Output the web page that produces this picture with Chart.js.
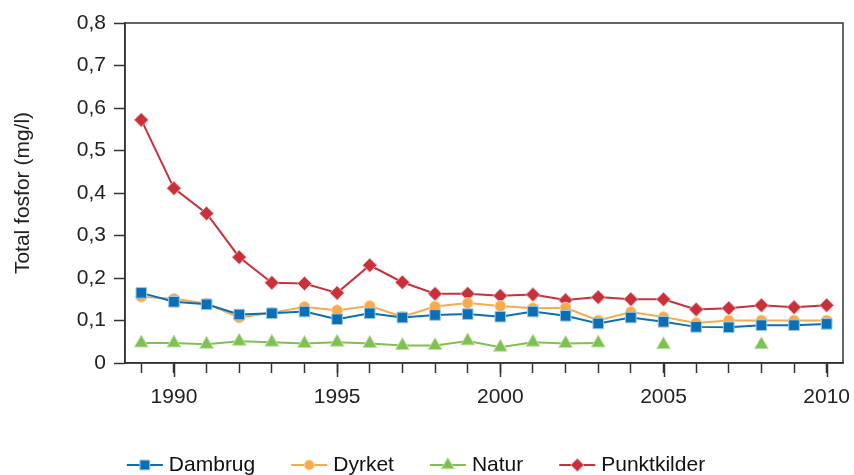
<!DOCTYPE html>
<html>
<head>
<meta charset="utf-8">
<script src="https://cdn.jsdelivr.net/npm/chart.js@4/dist/chart.umd.min.js"></script>
<style>
  html, body { margin: 0; padding: 0; background: #fff; }
</style>
</head>
<body>
<canvas id="graficoFosfor" width="854" height="475"></canvas>
<script>
const aar = [1989, 1990, 1991, 1992, 1993, 1994, 1995, 1996, 1997, 1998, 1999,
             2000, 2001, 2002, 2003, 2004, 2005, 2006, 2007, 2008, 2009, 2010];
const dambrug = [0.165, 0.144, 0.138, 0.114, 0.117, 0.121, 0.103, 0.117, 0.107, 0.113, 0.115,
                 0.109, 0.121, 0.111, 0.093, 0.107, 0.097, 0.085, 0.084, 0.089, 0.089, 0.092];
const dyrket = [0.156, 0.151, 0.140, 0.107, 0.118, 0.132, 0.124, 0.134, 0.109, 0.133, 0.141,
                0.134, 0.129, 0.130, 0.100, 0.120, 0.108, 0.094, 0.100, 0.100, 0.100, 0.100];
const natur = [0.047, 0.047, 0.044, 0.051, 0.049, 0.046, 0.049, 0.046, 0.041, 0.041, 0.052,
               0.037, 0.049, 0.046, 0.047, null, 0.043, null, null, 0.043, null, null];
const punktkilder = [0.572, 0.411, 0.352, 0.249, 0.189, 0.187, 0.165, 0.230, 0.190, 0.163, 0.163,
                     0.158, 0.161, 0.148, 0.155, 0.150, 0.150, 0.126, 0.129, 0.136, 0.131, 0.136];
const yTicks = [0, 0.1, 0.2, 0.3, 0.4, 0.5, 0.6, 0.7, 0.8];

const FONT = '"Liberation Sans", Arial, Helvetica, sans-serif';
const AXIS = '#333';

function serie(label, values, color, edge, style, radius) {
    return {
        label: label,
        data: aar.map((a, i) => ({ x: a, y: values[i] })),
        borderColor: color,
        backgroundColor: color,
        borderWidth: 2,
        pointStyle: style,
        pointRadius: radius,
        pointBackgroundColor: color,
        pointBorderColor: edge,
        pointBorderWidth: 1,
        spanGaps: false,
        tension: 0
    };
}

// ramme rundt om plotområdet + lange tick-streger hvert 5. år
const rammePlugin = {
    id: 'ramme',
    afterDraw(chart) {
        const { ctx, chartArea } = chart;
        const x = chart.scales.x;
        ctx.save();
        ctx.strokeStyle = AXIS;
        ctx.lineWidth = 1.5;
        ctx.strokeRect(chartArea.left, chartArea.top, chartArea.right - chartArea.left, chartArea.bottom - chartArea.top);
        aar.filter(a => a % 5 === 0).forEach(a => {
            const px = Math.round(x.getPixelForValue(a)) + 0.5;
            ctx.beginPath();
            ctx.moveTo(px, chartArea.bottom);
            ctx.lineTo(px, chartArea.bottom + 14);
            ctx.stroke();
        });
        ctx.restore();
    }
};

// forklaring med linje + markør, som i originalen
const forklaringPlugin = {
    id: 'forklaring',
    afterDraw(chart) {
        const ctx = chart.ctx;
        ctx.save();
        ctx.font = '21px ' + FONT;
        const sets = chart.data.datasets;
        const items = sets.map(ds => ({ ds: ds, w: 36 + 6 + ctx.measureText(ds.label).width }));
        const gap = 36;
        const total = items.reduce((s, it) => s + it.w, 0) + gap * (items.length - 1);
        let x = 416 - total / 2;
        const y = 465;
        items.forEach(it => {
            const ds = it.ds;
            ctx.strokeStyle = ds.borderColor;
            ctx.lineWidth = 2;
            ctx.beginPath();
            ctx.moveTo(x, y);
            ctx.lineTo(x + 36, y);
            ctx.stroke();
            ctx.fillStyle = ds.pointBackgroundColor;
            ctx.strokeStyle = ds.pointBorderColor;
            ctx.lineWidth = 1;
            Chart.helpers.drawPoint(ctx, { pointStyle: ds.pointStyle, radius: ds.pointRadius - 0.5, rotation: 0, borderWidth: 1 }, x + 18, y);
            ctx.fillStyle = '#111';
            ctx.textBaseline = 'middle';
            ctx.textAlign = 'left';
            ctx.fillText(ds.label, x + 42, y);
            x += it.w + gap;
        });
        ctx.restore();
    }
};

const ctx = document.getElementById('graficoFosfor').getContext('2d');
const chartFosfor = new Chart(ctx, {
    type: 'line',
    data: {
        datasets: [
            serie('Dambrug', dambrug, '#0b6fb6', '#9cc8e6', 'rect', 7.5),
            serie('Dyrket', dyrket, '#f7ab4c', '#fbd6a4', 'circle', 5.5),
            serie('Natur', natur, '#7fc151', '#c2e2aa', 'triangle', 8),
            serie('Punktkilder', punktkilder, '#c9303a', '#e8a0a5', 'rectRot', 7)
        ]
    },
    options: {
        responsive: false,
        animation: false,
        events: [],
        layout: { padding: { left: 0, right: 11, top: 23, bottom: 62 } },
        plugins: {
            legend: { display: false },
            tooltip: { enabled: false }
        },
        scales: {
            x: {
                type: 'linear',
                min: 1988.5,
                max: 2010.5,
                afterBuildTicks: axis => { axis.ticks = aar.map(a => ({ value: a })); },
                afterFit: axis => {
                    axis.height = 50;
                    axis.paddingLeft = 0;
                    axis.paddingRight = 0;
                },
                border: { display: true, color: AXIS, width: 1.5 },
                grid: { drawOnChartArea: false, drawTicks: true, tickLength: 10, tickColor: AXIS, tickWidth: 1.5 },
                ticks: {
                    autoSkip: false,
                    maxRotation: 0,
                    padding: 12,
                    color: '#222',
                    font: { family: FONT, size: 21 },
                    callback: v => (v % 5 === 0 ? String(v) : '')
                }
            },
            y: {
                min: 0,
                max: 0.8,
                afterBuildTicks: axis => { axis.ticks = yTicks.map(v => ({ value: v })); },
                afterFit: axis => { axis.width = 125; },
                border: { display: true, color: AXIS, width: 1.5 },
                grid: { drawOnChartArea: false, drawTicks: true, tickLength: 11, tickColor: AXIS, tickWidth: 1.5 },
                title: {
                    display: true,
                    text: 'Total fosfor (mg/l)',
                    color: '#222',
                    font: { family: FONT, size: 21 },
                    padding: { top: 11, bottom: 0 }
                },
                ticks: {
                    padding: 8,
                    color: '#222',
                    font: { family: FONT, size: 21 },
                    callback: v => (v === 0 ? '0' : v.toFixed(1).replace('.', ','))
                }
            }
        }
    },
    plugins: [rammePlugin, forklaringPlugin]
});
</script>
</body>
</html>
